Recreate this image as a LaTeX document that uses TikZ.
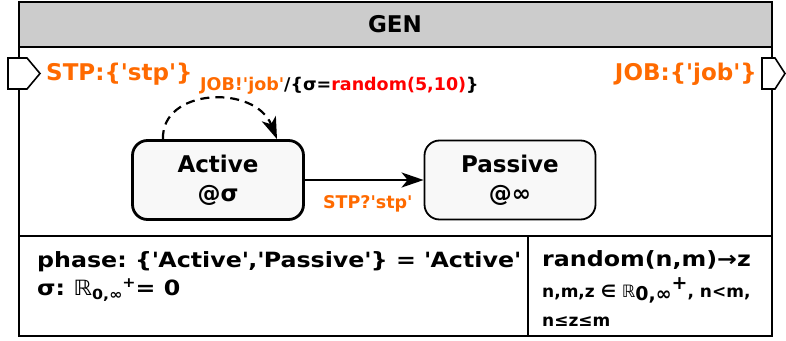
\documentclass[tikz,border=0pt]{standalone}
\usepackage{fontspec}
\setmainfont{DejaVu Sans}
\newfontfamily\widefont{DejaVu Sans}[FakeStretch=1.13]
\usetikzlibrary{arrows.meta}
\definecolor{portorange}{HTML}{FF6A00}
\definecolor{hdrgray}{HTML}{CCCCCC}
\definecolor{boxfill}{HTML}{F8F8F8}
\newcommand{\fs}[1]{\fontsize{#1}{#1}\selectfont}
\newcommand{\sq}{\textquotesingle}
\tikzset{
  big/.style={font=\frenchspacing\bfseries\fs{23}},
  mid/.style={font=\frenchspacing\bfseries\fs{17.5}},
  small/.style={font=\frenchspacing\widefont\bfseries\fs{21}},
  tiny/.style={font=\frenchspacing\bfseries\fs{17}},
  statebox/.style={draw, fill=boxfill, rounded corners=15pt, minimum width=171pt, minimum height=79pt, align=center,
    font=\bfseries\fontsize{23}{29}\selectfont, inner sep=0pt},
  portshape/.style={draw, fill=white, line width=1.6pt, line join=miter},
}
\begin{document}
\begin{tikzpicture}[x=1pt,y=-1pt]
\useasboundingbox (0,0) rectangle (786,340);
% header
\fill[hdrgray] (19,2) rectangle (772,47);
\draw[line width=2.8pt] (19,2) rectangle (772,336);
\draw[line width=2.2pt] (19,47) -- (772,47);
\node[big] (title) at (395,24) {GEN};
% ports
\draw[portshape] (8,58) -- (27,58) -- (40,73.5) -- (27,89) -- (8,89) -- cycle;
\draw[portshape] (762,58) -- (775,58) -- (785,73.5) -- (775,89) -- (762,89) -- cycle;
\node[big, text=portorange, anchor=base west, inner sep=0pt] (inport) at (46,80) {STP:\{\sq stp\sq\}};
\node[big, text=portorange, anchor=base east, inner sep=0pt] (outport) at (757,80) {JOB:\{\sq job\sq\}};
% states
\node[statebox, line width=2.8pt] (active) at (218,180) {Active\\@σ};
\node[statebox, line width=1.8pt] (passive) at (510,180) {Passive\\@∞};
% transitions
\draw[line width=2.4pt, -{Stealth[length=22pt,width=15pt,inset=6pt]}] (active.east) -- (passive.west)
  node[mid, text=portorange, anchor=base, inner sep=0pt, pos=0.53, yshift=-28pt] (extlabel) {STP?\sq stp\sq};
\draw[line width=2.2pt, dash pattern=on 9pt off 6pt, -{Stealth[length=22pt,width=15pt,inset=6pt]}]
  ([xshift=-55pt]active.north) .. controls (161,88) and (255,84) .. ([xshift=59pt]active.north);
\node[mid, anchor=base west, inner sep=0pt] (intlabel) at (200,90) {\textcolor{portorange}{JOB!\sq job\sq}/\{σ=\textcolor{red}{random(5,10)}\}};
% bottom section
\draw[line width=2.2pt] (19,236) -- (772,236);
\draw[line width=1.8pt] (528,236) -- (528,336);
\node[small, anchor=base west, inner sep=0pt] (phase) at (37,267) {phase: \{\sq Active\sq,\sq Passive\sq\} = \sq Active\sq};
\node[small, anchor=base west, inner sep=0pt] (sigma) at (37,295) {σ: {\mdseries ℝ}\raisebox{-4pt}{\fs{14}0,∞}\raisebox{8pt}{\fs{14}+}= 0};
\node[small, anchor=base west, inner sep=0pt] (func) at (542,266) {random(n,m)→z};
\node[tiny, anchor=base west, inner sep=0pt] (dom) at (542,297) {n,m,z ∈ {\mdseries ℝ}\raisebox{-3pt}{\fs{19}0,∞}\raisebox{8pt}{\fs{19}+}, n<m,};
\node[tiny, anchor=base west, inner sep=0pt] (rng) at (542,326) {n≤z≤m};
\end{tikzpicture}
\end{document}
